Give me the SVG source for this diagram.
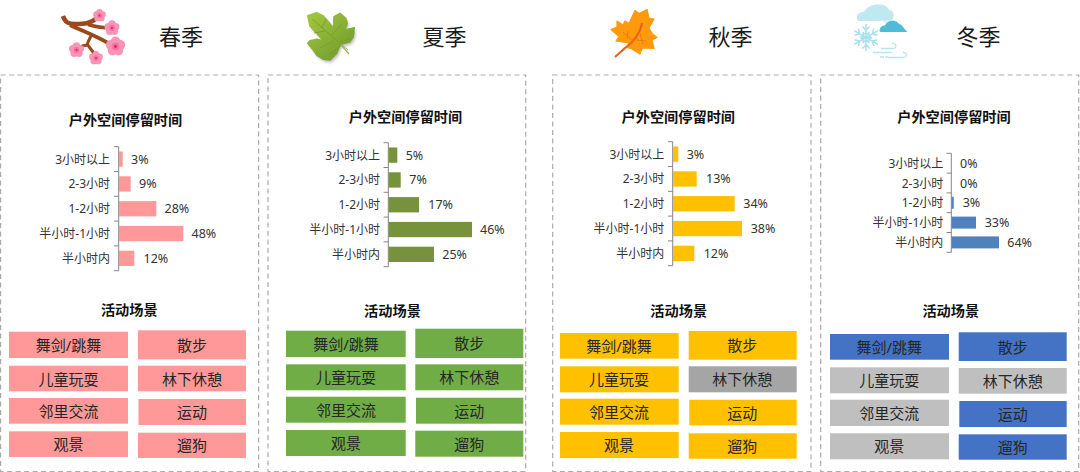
<svg xmlns="http://www.w3.org/2000/svg" width="1080" height="472" viewBox="0 0 1080 472">
<style>
text{font-family:"Noto Sans","Noto Sans CJK SC",sans-serif;dominant-baseline:central;fill:#262626}
.season{font-size:22px;text-anchor:middle;fill:#1a1a1a}
.title{font-size:14.2px;font-weight:700;text-anchor:middle;fill:#111}
.lab{font-size:12px;text-anchor:end;fill:#333}
.pct{font-size:12.5px;fill:#333}
.box{font-size:15px;text-anchor:middle;fill:#262626}
.panel{fill:#fff;stroke:#ababab;stroke-width:1.2;stroke-dasharray:5 3.5}
.axis{fill:none;stroke:#868686;stroke-width:1}
.pink{fill:#FF9999}.olive{fill:#76923C}.steel{fill:#4F81BD}.gold{fill:#FFC000}
.green{fill:#70AD47}.blue{fill:#4472C4}.grey{fill:#A5A5A5}.lgrey{fill:#BFBFBF}
.soft{filter:url(#soft)}
</style>
<defs>
<filter id="soft" x="-10%" y="-10%" width="120%" height="120%"><feGaussianBlur stdDeviation="0.35"/></filter>
<filter id="shadow" x="-20%" y="-20%" width="140%" height="140%"><feGaussianBlur stdDeviation="1.6"/></filter>
<linearGradient id="leafg" gradientUnits="userSpaceOnUse" x1="310" y1="14" x2="350" y2="58"><stop offset="0" stop-color="#A2C63E"/><stop offset="1" stop-color="#6E9A2B"/></linearGradient>
<g id="flower"><circle cx="0" cy="-4.600" r="4.400" fill="#FA94B6"/><circle cx="4.400" cy="-1.400" r="4.400" fill="#FA94B6"/><circle cx="2.700" cy="3.700" r="4.400" fill="#FA94B6"/><circle cx="-2.700" cy="3.700" r="4.400" fill="#FA94B6"/><circle cx="-4.400" cy="-1.400" r="4.400" fill="#FA94B6"/><circle r="3.400" fill="#F66FA2"/><circle r="1.300" fill="#DC2468"/></g>
<g id="arm"><path d="M0 0V-13M-3.500 -10.500L0 -7L3.500 -10.500M-3 -5L0 -2.500L3 -5" fill="none" stroke="#A9E1EE" stroke-width="1.500"/></g>
<path id="leafshape" d="M307.700 15.700L316.700 12.700L323.300 16L328.300 21.700L333.300 28.300L334 16.700L340 13.300L345.700 18.300L347.300 23.300L345 30L354.300 27.700L353.300 36.700L350 41.700L341.700 44L340 45L336.700 53.300L330 60L323.300 59.300L316.700 55L313.300 50L307.700 43.300L310 40.700L316.700 39.300L323.300 40.700L316.700 33.300L310 26Z"/>
</defs>
<rect width="1080" height="472" fill="#fff"/>

<g id="spring">
<g id="spring-icon" class="soft">
<path d="M63 16C65 22 68 24 75 24C84 24 90 24 97 18" fill="none" stroke="#9A4A1E" stroke-width="4.500"/>
<path d="M88 24.500C96 27 104 28 112 28M70 25C82 31 92 34 108 43" fill="none" stroke="#9A4A1E" stroke-width="3.800"/>
<path d="M92 34C90 38 88 41 87 45C80 46 76 49 75 50M87 44C90 48 93 52 96 56" fill="none" stroke="#9A4A1E" stroke-width="3"/>
<use href="#flower" transform="translate(99.500 15.500) scale(.72)"/>
<use href="#flower" transform="translate(112 28) scale(.85)"/>
<use href="#flower" transform="translate(115.500 46.500) scale(1.100)"/>
<use href="#flower" transform="translate(76.500 50) scale(.85)"/>
<use href="#flower" transform="translate(96 58) scale(.78)"/>
</g>
<text class="season" x="181" y="36">春季</text>
</g>

<g id="summer">
<g id="summer-icon">
<use href="#leafshape" fill="#8A7A8C" opacity=".55" transform="translate(1.500 2.500)" filter="url(#shadow)"/>
<use href="#leafshape" fill="url(#leafg)" stroke="url(#leafg)" stroke-width="1.500" stroke-linejoin="round" class="soft"/>
<path d="M312 19L348 50M322 28L326 19M331 36L342 24M340 43L350 38M325 31L314 33M334 41L320 48M341 46L329 55" fill="none" stroke="#7A9A2C" stroke-width=".8"/>
<path d="M341 45L349 54" stroke="#9DBB5C" stroke-width="1.400" fill="none"/>
</g>
<text class="season" x="444.500" y="36">夏季</text>
</g>

<g id="autumn">
<g id="autumn-icon" class="soft">
<path d="M635 10.500L639 13.500L647 9.500L649 18L654 19L649 28L652 33.500L657 37.500L652 40L654 48.500L642 48L640 54L632 49L627 47.500L629 43L616 41L619 36.500L611 29.500L617 27L617 21L623 25L625 21L629 23.500Z" fill="#FF9A0A" stroke="#FF9A0A" stroke-width="1.200" stroke-linejoin="round"/>
<path d="M642 23C640 35 632 43 625 48C622 51 618 54 615 57" fill="none" stroke="#E8601A" stroke-width="2"/>
<path d="M623 32L634 42M636 40L646 41M640 33L643 44M628 31L627 39" fill="none" stroke="#EE7A14" stroke-width="1"/>
</g>
<text class="season" x="730.500" y="36">秋季</text>
</g>

<g id="winter">
<g id="winter-icon" class="soft">
<path d="M860 21C855 21 856 11 864 12C868 3 886 2 889 10C896 10 894 21 890 21Z" fill="#BFE8F1"/>
<path d="M880 20H895V25H888Z" fill="#D8F1F6"/>
<path d="M881 32C878 32 880 25 885 25.500C887 20 896 19 899 24C902 24 904 29 907.500 32Z" fill="#4FBBD6"/>
<g transform="translate(866 37.500) scale(1.050)"><use href="#arm"/><use href="#arm" transform="rotate(60)"/><use href="#arm" transform="rotate(120)"/><use href="#arm" transform="rotate(180)"/><use href="#arm" transform="rotate(240)"/><use href="#arm" transform="rotate(300)"/></g>
<path d="M881 48.500H893C897 48.500 897 43 892 43.500M873 52.500H892M888 57.500H903C908 57.500 907 52 903 52.500M880 57H884M885 57H888" fill="none" stroke="#B5E5F0" stroke-width="1.300"/>
</g>
<text class="season" x="978.500" y="36">冬季</text>
</g>

<g id="panel-spring">
<rect class="panel" x="0.600" y="75" width="258" height="396.500"/>
<text class="title" x="125.500" y="119">户外空间停留时间</text>
<path class="axis" d="M118.700 146.700V270.700M114 146.700H118.700M114 171.500H118.700M114 196.300H118.700M114 221.100H118.700M114 245.900H118.700M114 270.700H118.700"/>
<rect class="pink" x="119" y="151.500" width="3.700" height="15.300"/>
<rect class="pink" x="119" y="176.300" width="11.700" height="15.300"/>
<rect class="pink" x="119" y="201.100" width="37.300" height="15.300"/>
<rect class="pink" x="119" y="225.900" width="64.300" height="15.300"/>
<rect class="pink" x="119" y="250.700" width="15.300" height="15.300"/>
<text class="lab" x="110" y="159.100">3小时以上</text><text class="pct" x="131" y="159.100">3%</text>
<text class="lab" x="110" y="183.900">2-3小时</text><text class="pct" x="139" y="183.900">9%</text>
<text class="lab" x="110" y="208.700">1-2小时</text><text class="pct" x="164.500" y="208.700">28%</text>
<text class="lab" x="110" y="233.500">半小时-1小时</text><text class="pct" x="191.500" y="233.500">48%</text>
<text class="lab" x="110" y="258.300">半小时内</text><text class="pct" x="143.500" y="258.300">12%</text>
<text class="title" x="129.300" y="309">活动场景</text>
<rect class="pink" x="9" y="331.700" width="119" height="26.300"/><text class="box" x="68.500" y="344.800">舞剑/跳舞</text>
<rect class="pink" x="9" y="365.700" width="119" height="25.600"/><text class="box" x="68.500" y="378.500">儿童玩耍</text>
<rect class="pink" x="9" y="398" width="119" height="25.700"/><text class="box" x="68.500" y="410.800">邻里交流</text>
<rect class="pink" x="9" y="431.300" width="119" height="25.700"/><text class="box" x="68.500" y="444.100">观景</text>
<rect class="pink" x="138" y="330.300" width="108" height="29"/><text class="box" x="192" y="344.800">散步</text>
<rect class="pink" x="138" y="365.700" width="108" height="25.600"/><text class="box" x="192" y="378.500">林下休憩</text>
<rect class="pink" x="138.500" y="399" width="107.500" height="26"/><text class="box" x="192" y="412">运动</text>
<rect class="pink" x="138" y="432.700" width="108" height="25.300"/><text class="box" x="192" y="445.300">遛狗</text>
</g>

<g id="panel-summer">
<rect class="panel" x="268" y="75" width="257.700" height="396.500"/>
<text class="title" x="405.500" y="116.300">户外空间停留时间</text>
<path class="axis" d="M388.300 142.700V266.700M383.600 142.700H388.300M383.600 167.500H388.300M383.600 192.300H388.300M383.600 217.100H388.300M383.600 241.900H388.300M383.600 266.700H388.300"/>
<rect class="olive" x="388.600" y="147.500" width="8.700" height="15.300"/>
<rect class="olive" x="388.600" y="172.300" width="12.100" height="15.300"/>
<rect class="olive" x="388.600" y="197.100" width="30.400" height="15.300"/>
<rect class="olive" x="388.600" y="221.900" width="83.400" height="15.300"/>
<rect class="olive" x="388.600" y="246.700" width="45.400" height="15.300"/>
<text class="lab" x="380" y="155.100">3小时以上</text><text class="pct" x="405.700" y="155.100">5%</text>
<text class="lab" x="380" y="179.900">2-3小时</text><text class="pct" x="409.300" y="179.900">7%</text>
<text class="lab" x="380" y="204.700">1-2小时</text><text class="pct" x="428.300" y="204.700">17%</text>
<text class="lab" x="380" y="229.500">半小时-1小时</text><text class="pct" x="480" y="229.500">46%</text>
<text class="lab" x="380" y="254.300">半小时内</text><text class="pct" x="442.300" y="254.300">25%</text>
<text class="title" x="392.500" y="310">活动场景</text>
<rect class="green" x="286" y="330.700" width="119.700" height="26.300"/><text class="box" x="346" y="343.800">舞剑/跳舞</text>
<rect class="green" x="286" y="364.300" width="119.700" height="26"/><text class="box" x="346" y="377.300">儿童玩耍</text>
<rect class="green" x="286" y="396.700" width="119.700" height="26"/><text class="box" x="346" y="409.700">邻里交流</text>
<rect class="green" x="286" y="430" width="119.700" height="26"/><text class="box" x="346" y="443">观景</text>
<rect class="green" x="415.300" y="328.700" width="108" height="29.300"/><text class="box" x="469.300" y="343.300">散步</text>
<rect class="green" x="415.300" y="364.300" width="108" height="26"/><text class="box" x="469.300" y="377.300">林下休憩</text>
<rect class="green" x="416" y="397.700" width="107.300" height="26"/><text class="box" x="469.300" y="410.700">运动</text>
<rect class="green" x="415.300" y="430.700" width="108" height="26"/><text class="box" x="469.300" y="443.700">遛狗</text>
</g>

<g id="panel-autumn">
<rect class="panel" x="552.700" y="75" width="258.300" height="396.500"/>
<text class="title" x="678.300" y="116.300">户外空间停留时间</text>
<path class="axis" d="M672.700 141.700V265.700M668 141.700H672.700M668 166.500H672.700M668 191.300H672.700M668 216.100H672.700M668 240.900H672.700M668 265.700H672.700"/>
<rect class="gold" x="673" y="146.500" width="5.300" height="15.300"/>
<rect class="gold" x="673" y="171.300" width="23.700" height="15.300"/>
<rect class="gold" x="673" y="196.100" width="61.700" height="15.300"/>
<rect class="gold" x="673" y="220.900" width="69" height="15.300"/>
<rect class="gold" x="673" y="245.700" width="21.300" height="15.300"/>
<text class="lab" x="664.300" y="154.100">3小时以上</text><text class="pct" x="686.700" y="154.100">3%</text>
<text class="lab" x="664.300" y="178.900">2-3小时</text><text class="pct" x="706" y="178.900">13%</text>
<text class="lab" x="664.300" y="203.700">1-2小时</text><text class="pct" x="743.300" y="203.700">34%</text>
<text class="lab" x="664.300" y="228.500">半小时-1小时</text><text class="pct" x="750.700" y="228.500">38%</text>
<text class="lab" x="664.300" y="253.300">半小时内</text><text class="pct" x="703.700" y="253.300">12%</text>
<text class="title" x="678.700" y="310">活动场景</text>
<rect class="gold" x="560" y="333" width="118.700" height="25.700"/><text class="box" x="619" y="345.800">舞剑/跳舞</text>
<rect class="gold" x="560" y="366.300" width="118.700" height="26"/><text class="box" x="619" y="379.300">儿童玩耍</text>
<rect class="gold" x="560" y="398.700" width="118.700" height="26"/><text class="box" x="619" y="411.700">邻里交流</text>
<rect class="gold" x="560" y="432" width="118.700" height="26"/><text class="box" x="619" y="445">观景</text>
<rect class="gold" x="688.700" y="331" width="108" height="28.700"/><text class="box" x="742.300" y="345.300">散步</text>
<rect class="grey" x="688.700" y="366.300" width="108" height="26"/><text class="box" x="742.300" y="379.300">林下休憩</text>
<rect class="gold" x="689.300" y="399.700" width="107.400" height="25.600"/><text class="box" x="742.300" y="412.500">运动</text>
<rect class="gold" x="688.700" y="433.300" width="108" height="25.400"/><text class="box" x="742.300" y="446">遛狗</text>
</g>

<g id="panel-winter">
<rect class="panel" x="820.700" y="75" width="258" height="396.500"/>
<text class="title" x="954" y="116.300">户外空间停留时间</text>
<path class="axis" d="M951.300 153.300V252.300M946.600 153.300H951.300M946.600 173.100H951.300M946.600 192.900H951.300M946.600 212.700H951.300M946.600 232.500H951.300M946.600 252.300H951.300"/>
<rect class="steel" x="951.600" y="196.800" width="2.100" height="12"/>
<rect class="steel" x="951.600" y="216.600" width="24.400" height="12"/>
<rect class="steel" x="951.600" y="236.400" width="47.400" height="12"/>
<text class="lab" x="943.300" y="163.200">3小时以上</text><text class="pct" x="960" y="163.200">0%</text>
<text class="lab" x="943.300" y="183">2-3小时</text><text class="pct" x="960" y="183">0%</text>
<text class="lab" x="943.300" y="202.800">1-2小时</text><text class="pct" x="962.700" y="202.800">3%</text>
<text class="lab" x="943.300" y="222.600">半小时-1小时</text><text class="pct" x="984.700" y="222.600">33%</text>
<text class="lab" x="943.300" y="242.400">半小时内</text><text class="pct" x="1007.300" y="242.400">64%</text>
<text class="title" x="950.800" y="310">活动场景</text>
<rect class="blue" x="830" y="334" width="119" height="25.700"/><text class="box" x="889.300" y="346.800">舞剑/跳舞</text>
<rect class="lgrey" x="830" y="367.300" width="119" height="26"/><text class="box" x="889.300" y="380.300">儿童玩耍</text>
<rect class="lgrey" x="830" y="399.700" width="119" height="26.300"/><text class="box" x="889.300" y="412.800">邻里交流</text>
<rect class="lgrey" x="830" y="433.300" width="119" height="26"/><text class="box" x="889.300" y="446.300">观景</text>
<rect class="blue" x="958.700" y="332.300" width="108" height="28.700"/><text class="box" x="1012.700" y="346.600">散步</text>
<rect class="lgrey" x="958.700" y="368" width="108" height="25.700"/><text class="box" x="1012.700" y="380.800">林下休憩</text>
<rect class="blue" x="959.300" y="401" width="107.400" height="26"/><text class="box" x="1012.700" y="414">运动</text>
<rect class="blue" x="958.700" y="434.300" width="108" height="25.400"/><text class="box" x="1012.700" y="447">遛狗</text>
</g>
</svg>
